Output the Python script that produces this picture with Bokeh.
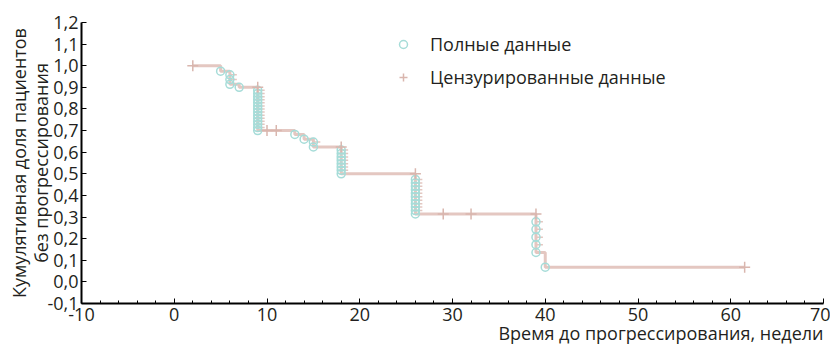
from bokeh.plotting import figure
from bokeh.models import (Range1d, FixedTicker, CustomJSTickFormatter, Legend,
                          LegendItem, Title, ColumnDataSource)
from bokeh.embed import file_html
from bokeh.resources import INLINE

# Kaplan-Meier step curve (time in weeks, cumulative proportion)
step_t = [2, 5, 6, 7, 9, 13, 14, 15, 18, 26, 39, 40, 61.5]
step_s = [1.0, 0.975, 0.914, 0.900, 0.700, 0.682, 0.660, 0.624, 0.500, 0.314, 0.136, 0.068, 0.068]

# complete observations (events)
event_t = [5,
           6, 6, 6,
           7,
           9, 9, 9, 9, 9, 9, 9, 9, 9, 9, 9, 9, 9, 9,
           13, 14, 15, 15,
           18, 18, 18, 18, 18, 18, 18, 18,
           26, 26, 26, 26, 26, 26, 26, 26, 26, 26, 26,
           39, 39, 39, 39, 39,
           40]
event_s = [0.975,
           0.958, 0.936, 0.914,
           0.900,
           0.886, 0.872, 0.857, 0.843, 0.829, 0.814, 0.800, 0.786, 0.771, 0.757, 0.743, 0.729, 0.714, 0.700,
           0.682, 0.660, 0.647, 0.624,
           0.610, 0.594, 0.578, 0.563, 0.547, 0.531, 0.516, 0.500,
           0.474, 0.458, 0.442, 0.426, 0.410, 0.394, 0.378, 0.362, 0.346, 0.330, 0.314,
           0.278, 0.243, 0.207, 0.172, 0.136,
           0.068]

# censored observations
cens_t = [2, 9, 10, 11, 18, 26, 29, 32, 39, 61.5]
cens_s = [1.0, 0.900, 0.700, 0.700, 0.624, 0.500, 0.314, 0.314, 0.314, 0.068]

x_ticks = [-10, 0, 10, 20, 30, 40, 50, 60, 70]
x_minor = [-8, -6, -4, -2, 2, 4, 6, 8, 12, 14, 16, 18, 22, 24, 26, 28, 32, 34, 36, 38,
           42, 44, 46, 48, 52, 54, 56, 58, 62, 64, 66, 68]
y_ticks = [-0.1, 0.0, 0.1, 0.2, 0.3, 0.4, 0.5, 0.6, 0.7, 0.8, 0.9, 1.0, 1.1, 1.2]

x_title = "Время до прогрессирования, недели"
y_title = "Кумулятивная доля пациентов\nбез прогрессирования"
legend_labels = ["Полные данные", "Цензурированные данные"]

LINE = "#e4c7c1"
CENS = "#d9b6ae"
CIRC = "#a6dcd8"
TXT = "#231f20"
FONT = "Open Sans"
FS = "18px"

p = figure(width=830, height=349, output_backend="svg", toolbar_location=None,
           x_range=Range1d(x_ticks[0], x_ticks[-1]), y_range=Range1d(y_ticks[0], y_ticks[-1]),
           min_border_left=81, min_border_right=7, min_border_top=22, min_border_bottom=46)
p.outline_line_color = None
p.grid.visible = False

p.step(step_t, step_s, mode="after", line_color=LINE, line_width=3)

dash_src = ColumnDataSource(dict(x0=event_t, x1=[t + 0.75 for t in event_t], y=event_s))
p.segment(x0="x0", y0="y", x1="x1", y1="y", source=dash_src, line_color=LINE, line_width=1.5)

circ = p.scatter(event_t, event_s, marker="circle", size=8, fill_color=None,
                 line_color=CIRC, line_width=1.5)
plus = p.scatter(cens_t, cens_s, marker="cross", size=11, line_color=CENS, line_width=1.5)

# axes
p.xaxis.ticker = FixedTicker(ticks=x_ticks, minor_ticks=x_minor)
p.yaxis.ticker = FixedTicker(ticks=y_ticks)
p.yaxis.formatter = CustomJSTickFormatter(code="return tick.toFixed(1).replace('.', ',');")
p.xaxis.formatter = CustomJSTickFormatter(code="return tick.toFixed(0);")

for ax in (p.xaxis, p.yaxis):
    ax.axis_line_color = "black"
    ax.axis_line_width = 2
    ax.major_tick_line_color = "black"
    ax.major_tick_in = 5
    ax.major_tick_out = 0
    ax.major_label_text_font = FONT
    ax.major_label_text_font_size = FS
    ax.major_label_text_color = TXT
    ax.axis_label_text_font = FONT
    ax.axis_label_text_font_size = FS
    ax.axis_label_text_font_style = "normal"
    ax.axis_label_text_color = TXT

p.xaxis.minor_tick_line_color = "black"
p.xaxis.minor_tick_in = 3
p.xaxis.minor_tick_out = 0
p.yaxis.minor_tick_line_color = None
p.xaxis.major_label_standoff = 4
p.yaxis.major_label_standoff = 3
p.yaxis.axis_label = y_title
p.yaxis.axis_label_standoff = -9
p.yaxis.axis_label_text_line_height = 0.95

p.add_layout(Title(text=x_title, align="right", standoff=-10,
                   text_font=FONT, text_font_size=FS, text_font_style="normal",
                   text_color=TXT), "below")

legend = Legend(items=[LegendItem(label=legend_labels[0], renderers=[circ]),
                       LegendItem(label=legend_labels[1], renderers=[plus])],
                location=(312, 214), background_fill_alpha=0, border_line_color=None,
                padding=0, spacing=9, glyph_width=20, glyph_height=20, label_height=20,
                label_standoff=17, label_text_font=FONT, label_text_font_size=FS,
                label_text_color=TXT)
p.add_layout(legend)

open("out.html", "w").write(file_html(p, INLINE))
